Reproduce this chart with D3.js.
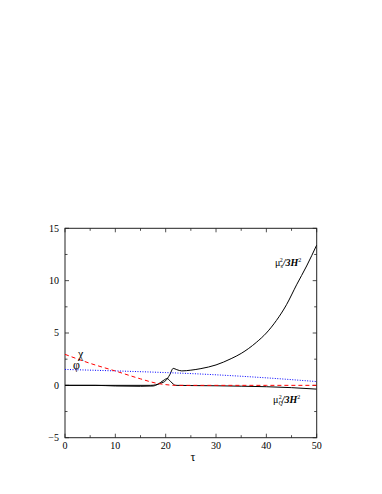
<!DOCTYPE html>
<html>
<head>
<meta charset="utf-8">
<script src="https://cdn.jsdelivr.net/npm/d3@7"></script>
<style>
  html, body { margin: 0; padding: 0; background: #fff; }
  svg { display: block; font-family: "Liberation Serif", "DejaVu Serif", serif; }
</style>
</head>
<body>
<div id="chart"></div>
<script>
// values
var chiTau = [0, 5, 10, 15, 18, 20, 22, 30, 40, 50];
var chiVal = [2.96, 2.1, 1.37, 0.62, 0.22, 0.07, 0, 0, 0, 0];

var phiTau = [0, 10, 20, 27, 35, 42, 50];
var phiVal = [1.52, 1.38, 1.22, 1.08, 0.87, 0.65, 0.36];

var musTau = [0, 17, 18, 19, 20, 20.8, 21.5, 22.2, 23.2, 25, 27, 30, 33, 35, 38, 40, 42, 44, 46, 48, 50];
var musVal = [0, 0, 0.05, 0.2, 0.45, 1.0, 1.62, 1.5, 1.38, 1.45, 1.6, 1.95, 2.55, 3.05, 4.1, 5.0, 6.2, 7.7, 9.6, 11.4, 13.4];

var muqTau = [0, 6, 10, 15, 17.5, 18.5, 19.5, 20.3, 21, 22, 25, 30, 35, 40, 45, 50];
var muqVal = [0, 0, -0.06, -0.09, -0.06, 0.12, 0.45, 0.65, 0.35, 0, -0.02, -0.04, -0.08, -0.13, -0.22, -0.36];

var xTicks = [0, 10, 20, 30, 40, 50];
var yTicks = [-5, 0, 5, 10, 15];

(function() {
  var W = 382, H = 494;
  var margin = { left: 65, right: 65.3, top: 228.3, bottom: 56.3 };
  var iw = W - margin.left - margin.right, ih = H - margin.top - margin.bottom;

  var svg = d3.select('#chart').append('svg').attr('width', W).attr('height', H);
  var g = svg.append('g').attr('transform', 'translate(' + margin.left + ',' + margin.top + ')');

  var x = d3.scaleLinear().domain([0, 50]).range([0, iw]);
  var y = d3.scaleLinear().domain([-5, 15]).range([ih, 0]);

  g.append('defs').append('clipPath').attr('id', 'clip')
    .append('rect').attr('width', iw).attr('height', ih);

  // ticks inside the frame on all four sides
  var xMinor = d3.range(0, 51, 5), yMinor = d3.range(-5, 15.1, 2.5);
  function tickLen(v, major) { return major.indexOf(v) > -1 ? 4 : 2.5; }
  var ticks = g.append('g').attr('stroke', '#222').attr('stroke-width', 0.8);
  xMinor.forEach(function(v) {
    var L = tickLen(v, xTicks);
    ticks.append('line').attr('x1', x(v)).attr('x2', x(v)).attr('y1', ih).attr('y2', ih - L);
    ticks.append('line').attr('x1', x(v)).attr('x2', x(v)).attr('y1', 0).attr('y2', L);
  });
  yMinor.forEach(function(v) {
    var L = tickLen(v, yTicks);
    ticks.append('line').attr('x1', 0).attr('x2', L).attr('y1', y(v)).attr('y2', y(v));
    ticks.append('line').attr('x1', iw).attr('x2', iw - L).attr('y1', y(v)).attr('y2', y(v));
  });

  g.append('rect').attr('width', iw).attr('height', ih)
    .attr('fill', 'none').attr('stroke', '#222').attr('stroke-width', 1);

  g.selectAll('.xl').data(xTicks).enter().append('text')
    .attr('x', function(d) { return x(d); }).attr('y', ih + 11)
    .attr('text-anchor', 'middle').attr('font-size', 10).text(function(d) { return d; });
  g.selectAll('.yl').data(yTicks).enter().append('text')
    .attr('x', -6).attr('y', function(d) { return y(d); }).attr('dy', '0.35em')
    .attr('text-anchor', 'end').attr('font-size', 10)
    .text(function(d) { return d < 0 ? '\u2212' + (-d) : d; });

  g.append('text').attr('x', iw / 2 + 2).attr('y', ih + 23)
    .attr('text-anchor', 'middle').attr('font-size', 12).text('\u03c4');

  var line = d3.line().curve(d3.curveMonotoneX)
    .x(function(d) { return x(d[0]); }).y(function(d) { return y(d[1]); });
  function pairs(t, v) { return t.map(function(d, i) { return [d, v[i]]; }); }

  var plot = g.append('g').attr('clip-path', 'url(#clip)').attr('fill', 'none');
  plot.append('path').datum(pairs(muqTau, muqVal)).attr('d', line)
    .attr('stroke', '#000').attr('stroke-width', 1);
  plot.append('path').datum(pairs(musTau, musVal)).attr('d', line)
    .attr('stroke', '#000').attr('stroke-width', 1);
  plot.append('path').datum(pairs(phiTau, phiVal)).attr('d', line)
    .attr('stroke', '#0000ff').attr('stroke-width', 1).attr('stroke-dasharray', '1,1.5');
  plot.append('path').datum(pairs(chiTau, chiVal)).attr('d', line)
    .attr('stroke', '#ff0000').attr('stroke-width', 1).attr('stroke-dasharray', '4,3');

  // curve labels
  g.append('text').attr('x', 13).attr('y', 130).attr('font-size', 12).text('\u03c7');
  g.append('text').attr('x', 8).attr('y', 141).attr('font-size', 12).text('\u03c6');

  function muLabel(tx, ty, sub) {
    var t = g.append('text').attr('x', tx).attr('y', ty).attr('font-size', 10);
    t.append('tspan').text('\u03bc');
    t.append('tspan').attr('font-size', 6).attr('dy', 2).attr('font-style', sub === 'Q' ? 'italic' : null).text(sub);
    t.append('tspan').attr('font-size', 6).attr('dy', -6).attr('dx', sub === 'Q' ? -4 : -3).text('2');
    t.append('tspan').attr('dy', 4).attr('font-style', 'italic').attr('font-weight', 'bold').text('/3H');
    t.append('tspan').attr('font-size', 6).attr('dy', -4).text('2');
  }
  muLabel(275 - margin.left, 266 - margin.top, 's');
  muLabel(273 - margin.left, 403 - margin.top, 'Q');
})();
</script>
</body>
</html>
